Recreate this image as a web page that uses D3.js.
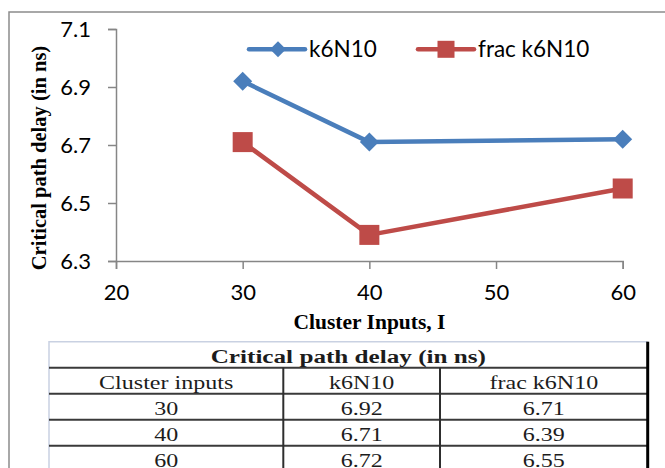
<!DOCTYPE html>
<html>
<head>
<meta charset="utf-8">
<script src="https://cdn.jsdelivr.net/npm/d3@7"></script>
<style>
  html, body { margin: 0; padding: 0; background: #fff; }
  svg { display: block; }
</style>
</head>
<body>
<svg id="chart" width="665" height="468"></svg>
<script>
// Chart data (critical path delay, ns)
const clusterInputs = [30, 40, 60];
const k6N10 = [6.92, 6.71, 6.72];
const fracK6N10 = [6.71, 6.39, 6.55];
const seriesNames = ["k6N10", "frac k6N10"];
const xTicks = [20, 30, 40, 50, 60];
const yTicks = [6.3, 6.5, 6.7, 6.9, 7.1];
const tableTitle = "Critical path delay (in ns)";
const tableHeaders = ["Cluster inputs", "k6N10", "frac k6N10"];

// Styling
const BLUE = "#4a7ebb";
const RED = "#be4b48";
const AXIS_GREY = "#868686";
const SANS = "Lato, 'Open Sans', sans-serif";
const SERIF = "'Liberation Serif', 'Times New Roman', serif";

const svg = d3.select("#chart");

// Outer frame (only left and top edges visible in the crop)
svg.append("path")
    .attr("d", "M9,468 V12 H665")
    .attr("fill", "none")
    .attr("stroke", "#8c8c8c")
    .attr("stroke-width", 1.5);

const x = d3.scaleLinear().domain([20, 60]).range([116, 622.7]);
const y = d3.scaleLinear().domain([6.3, 7.1]).range([261, 29]);

// Y axis
const yAxis = svg.append("g")
    .attr("transform", `translate(${x(20)},0)`)
    .call(d3.axisLeft(y).tickValues(yTicks).tickFormat(d3.format(".1f")).tickSize(8).tickPadding(17));
yAxis.select(".domain").attr("stroke", AXIS_GREY).attr("stroke-width", 1.5);
yAxis.selectAll(".tick line").attr("stroke", AXIS_GREY).attr("stroke-width", 1.5);
yAxis.selectAll(".tick text")
    .attr("font-family", SANS)
    .attr("font-size", 22)
    .attr("fill", "#000");

// X axis
const xAxis = svg.append("g")
    .attr("transform", `translate(0,${y(6.3)})`)
    .call(d3.axisBottom(x).tickValues(xTicks).tickFormat(d3.format("d")).tickSize(8).tickPadding(15));
xAxis.select(".domain").attr("stroke", AXIS_GREY).attr("stroke-width", 1.5);
xAxis.selectAll(".tick line").attr("stroke", AXIS_GREY).attr("stroke-width", 1.5);
xAxis.selectAll(".tick text")
    .attr("font-family", SANS)
    .attr("font-size", 22)
    .attr("fill", "#000");

// Axis titles
svg.append("text")
    .attr("transform", "translate(46,158) rotate(-90)")
    .attr("text-anchor", "middle")
    .attr("font-family", SERIF)
    .attr("font-weight", "bold")
    .attr("font-size", 20.5)
    .text("Critical path delay (in ns)");

svg.append("text")
    .attr("x", 369.5)
    .attr("y", 329)
    .attr("text-anchor", "middle")
    .attr("font-family", SERIF)
    .attr("font-weight", "bold")
    .attr("font-size", 21.5)
    .text("Cluster Inputs, I");

// Series
const series = [
    { name: seriesNames[0], values: k6N10, color: BLUE, marker: "diamond" },
    { name: seriesNames[1], values: fracK6N10, color: RED, marker: "square" }
];

const line = d3.line()
    .x((d, i) => x(clusterInputs[i]))
    .y(d => y(d));

function drawMarker(g, type, cx, cy, size, color) {
    if (type === "diamond") {
        g.append("path")
            .attr("d", `M${cx},${cy - size} L${cx + size},${cy} L${cx},${cy + size} L${cx - size},${cy} Z`)
            .attr("fill", color);
    } else {
        g.append("rect")
            .attr("x", cx - size)
            .attr("y", cy - size)
            .attr("width", size * 2)
            .attr("height", size * 2)
            .attr("fill", color);
    }
}

const plot = svg.append("g");
series.forEach(s => {
    plot.append("path")
        .datum(s.values)
        .attr("d", line)
        .attr("fill", "none")
        .attr("stroke", s.color)
        .attr("stroke-width", 4.5)
        .attr("stroke-linejoin", "round")
        .attr("stroke-linecap", "round");
    s.values.forEach((v, i) => {
        drawMarker(plot, s.marker, x(clusterInputs[i]), y(v), s.marker === "diamond" ? 9.5 : 10, s.color);
    });
});

// Legend
const legendItems = [
    { x0: 249, x1: 305, mx: 278, tx: 309 },
    { x0: 418, x1: 474, mx: 446, tx: 478 }
];
const legend = svg.append("g");
series.forEach((s, i) => {
    const li = legendItems[i];
    legend.append("line")
        .attr("x1", li.x0).attr("x2", li.x1)
        .attr("y1", 49.3).attr("y2", 49.3)
        .attr("stroke", s.color)
        .attr("stroke-width", 4.5)
        .attr("stroke-linecap", "round");
    drawMarker(legend, s.marker, li.mx, 49.3, s.marker === "diamond" ? 8 : 8.5, s.color);
    legend.append("text")
        .attr("x", li.tx)
        .attr("y", 57)
        .attr("font-family", SANS)
        .attr("font-size", 22.5)
        .attr("fill", "#000")
        .text(s.name);
});

// Data table below the chart
const colEdges = [49, 283.3, 440, 647.7];
const rowTop = 341.7;
const rowH = 26;
const tableRows = clusterInputs.map((c, i) => [String(c), k6N10[i].toFixed(2), fracK6N10[i].toFixed(2)]);
const nRows = 2 + tableRows.length;
const tableBottom = rowTop + rowH * nRows;

const table = svg.append("g");

// light top / left border
table.append("path")
    .attr("d", `M${colEdges[0]},${tableBottom} V${rowTop} H${colEdges[3]}`)
    .attr("fill", "none")
    .attr("stroke", "#c9d1e2")
    .attr("stroke-width", 1.5);

// row rules
d3.range(1, nRows + 1).forEach(r => {
    table.append("line")
        .attr("x1", colEdges[0]).attr("x2", colEdges[3])
        .attr("y1", rowTop + r * rowH).attr("y2", rowTop + r * rowH)
        .attr("stroke", "#3a3a3a")
        .attr("stroke-width", 2);
});

// column dividers (below the title row)
[colEdges[1], colEdges[2]].forEach(cx => {
    table.append("line")
        .attr("x1", cx).attr("x2", cx)
        .attr("y1", rowTop + rowH).attr("y2", tableBottom)
        .attr("stroke", "#2e2e2e")
        .attr("stroke-width", 2);
});

// right border
table.append("line")
    .attr("x1", colEdges[3]).attr("x2", colEdges[3])
    .attr("y1", rowTop).attr("y2", tableBottom)
    .attr("stroke", "#000")
    .attr("stroke-width", 3);

function cellText(cx, baseline, txt, bold) {
    table.append("text")
        .attr("transform", `translate(${cx},${baseline}) scale(${bold ? 1.36 : 1.3},1)`)
        .attr("text-anchor", "middle")
        .attr("font-family", SERIF)
        .attr("font-weight", bold ? "bold" : "normal")
        .attr("font-size", 18.5)
        .attr("fill", "#1c1c1c")
        .text(txt);
}

const colCenters = d3.range(3).map(i => (colEdges[i] + colEdges[i + 1]) / 2);
cellText((colEdges[0] + colEdges[3]) / 2, rowTop + 21, tableTitle, true);
tableHeaders.forEach((h, i) => cellText(colCenters[i], rowTop + rowH + 21.5, h, false));
tableRows.forEach((row, r) => {
    row.forEach((v, i) => cellText(colCenters[i], rowTop + rowH * (r + 2) + 21, v, false));
});
</script>
</body>
</html>
